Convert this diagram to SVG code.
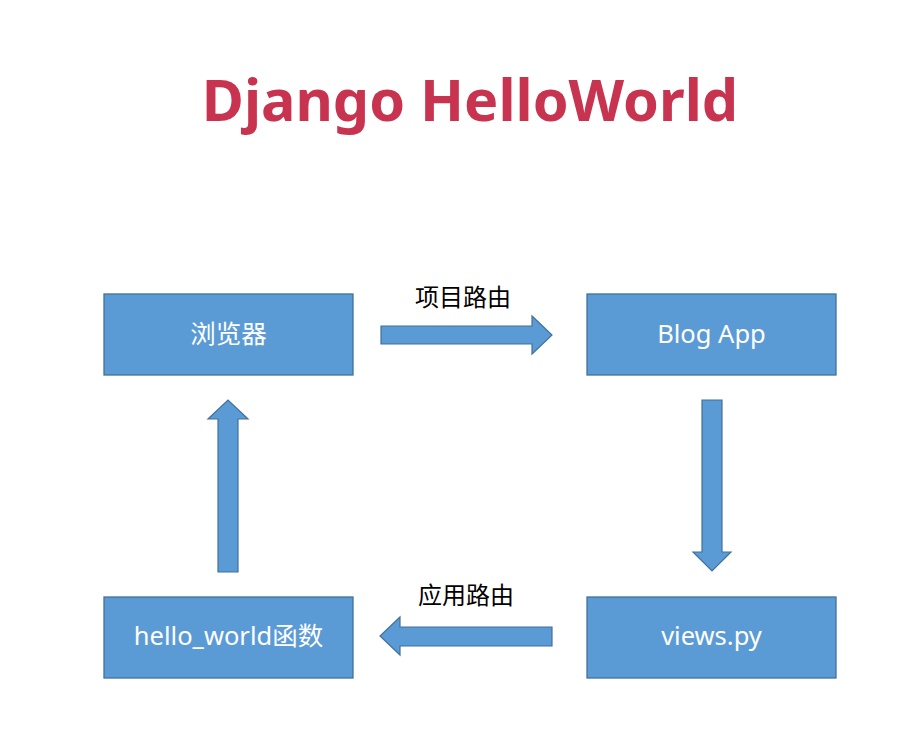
<svg xmlns="http://www.w3.org/2000/svg" width="904" height="750" viewBox="0 0 904 750">
<style>
.box{fill:#5B9BD5;stroke:#41719C;stroke-width:1.3}
.bt{fill:#FFFFFF;font-family:"Noto Sans","Noto Sans CJK SC",sans-serif;font-size:25.5px;text-anchor:middle}
.arr{fill:#5B9BD5;stroke:#41719C;stroke-width:1.2}
.lbl{fill:#000000;font-family:"Noto Sans CJK SC","Noto Sans",sans-serif;font-size:24px;text-anchor:middle}
.title{fill:#C8344F;font-family:"Noto Sans","Open Sans",sans-serif;font-weight:bold;font-size:57.5px;text-anchor:middle}
</style>
<rect width="904" height="750" fill="#FFFFFF"/>
<text class="title" x="470" y="121">Django HelloWorld</text>
<g id="browser"><rect class="box" x="104" y="294" width="249" height="81"/><text class="bt" x="228.5" y="343">浏览器</text></g>
<g id="blogapp"><rect class="box" x="587" y="294" width="249" height="81"/><text class="bt" x="711.5" y="343">Blog App</text></g>
<g id="helloworld"><rect class="box" x="104" y="597" width="249" height="81"/><text class="bt" x="228.5" y="645">hello_world函数</text></g>
<g id="views"><rect class="box" x="587" y="597" width="249" height="81"/><text class="bt" x="711.5" y="645">views.py</text></g>
<g id="connectors">
<polygon class="arr" points="381,326 532,326 532,316 552,335 532,354 532,344 381,344"/>
<polygon class="arr" points="722,400 722,552 731,552 712,571 693,552 702,552 702,400"/>
<polygon class="arr" points="552,627 400,627 400,617 380,636 400,655 400,646 552,646"/>
<polygon class="arr" points="218,572 218,419 208,419 228,400 248,419 238,419 238,572"/>
<text class="lbl" x="463" y="306">项目路由</text>
<text class="lbl" x="466" y="604">应用路由</text>
</g>
</svg>
